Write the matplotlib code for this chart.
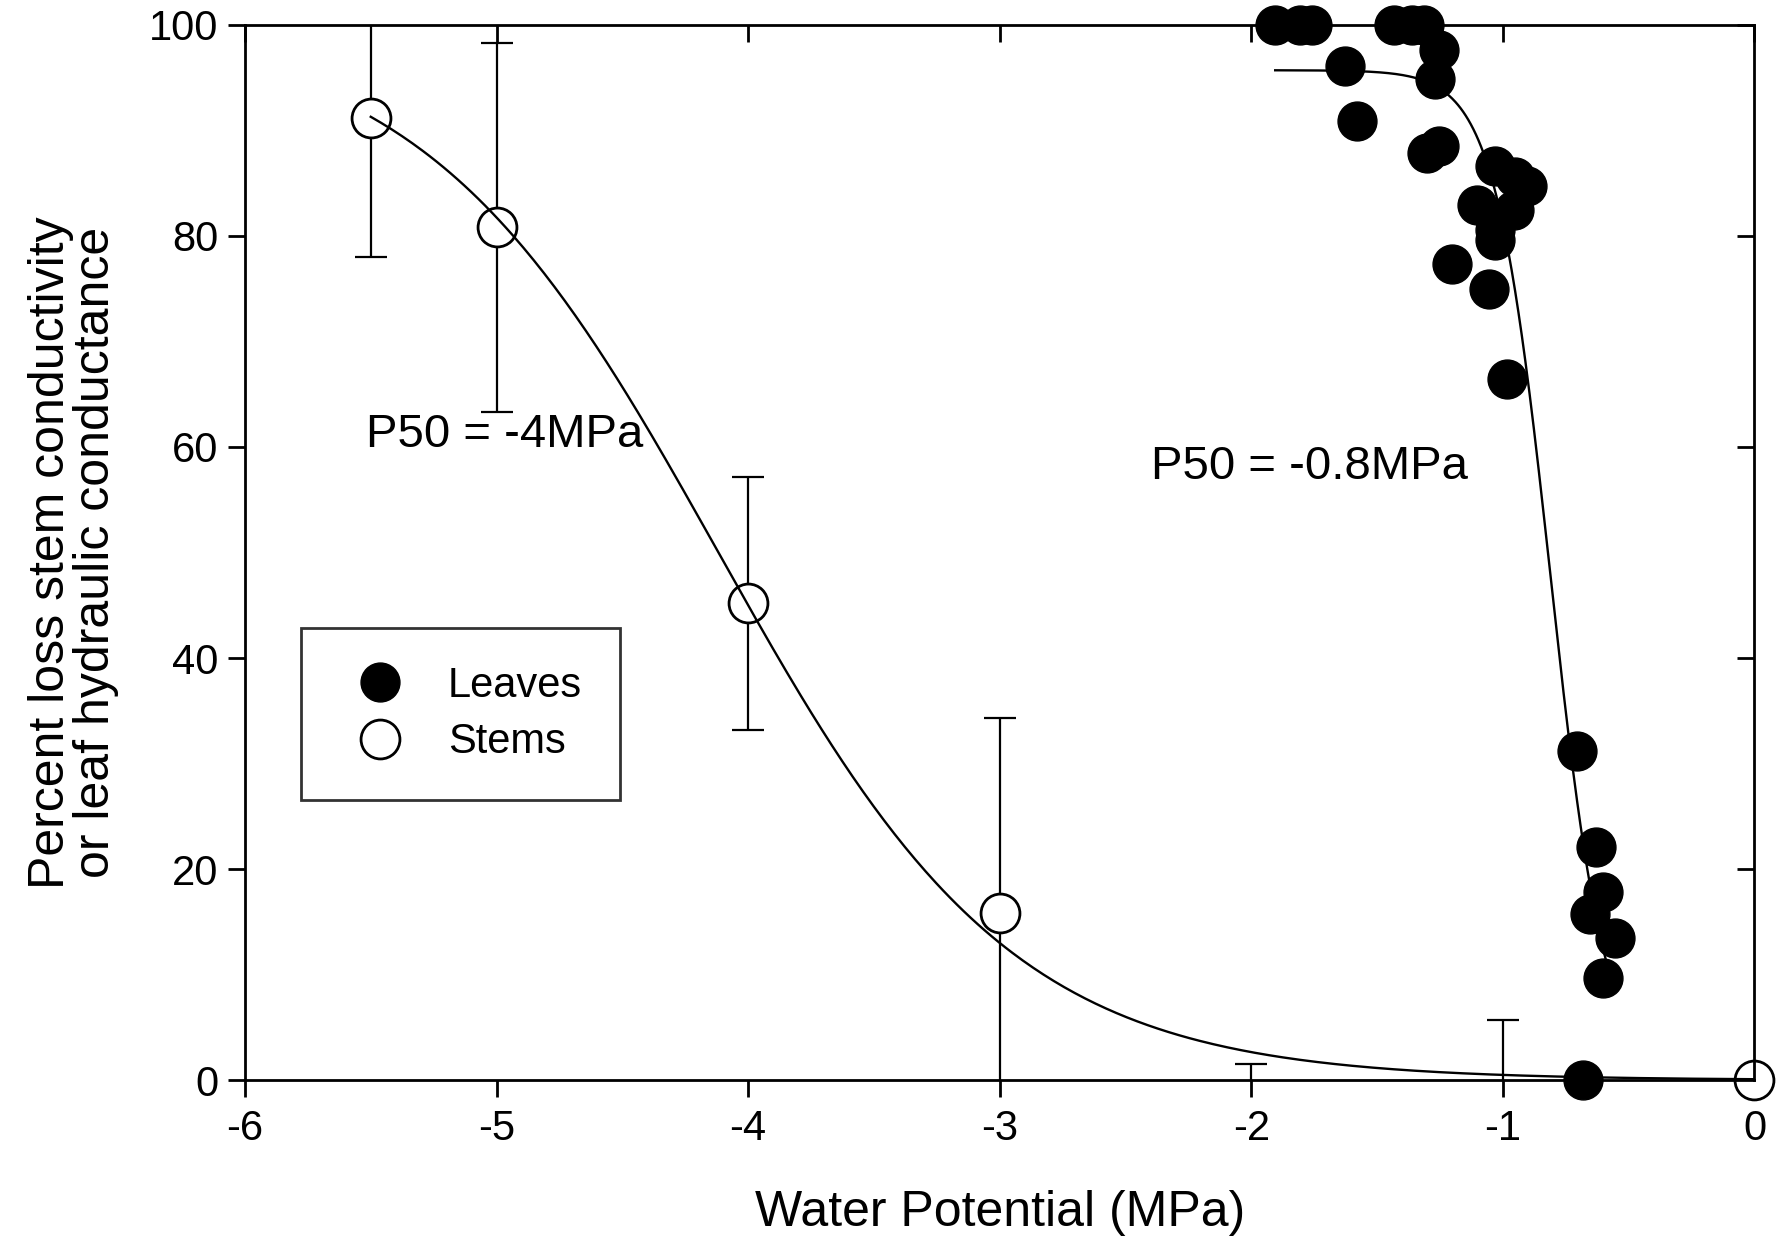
import matplotlib

matplotlib.use("Agg")

import matplotlib.pyplot as plt
import numpy as np

plt.rcParams["font.family"] = ["Liberation Sans", "DejaVu Sans"]

# stems: mean percent loss and error (the -2 and -1 means sit below 0 and are clipped)
stem_x = [-5.5, -5.0, -4.0, -3.0, -2.0, -1.0, 0.0]
stem_y = [91.2, 80.8, 45.2, 15.8, -1.0, -2.0, 0.0]
stem_err = [13.2, 17.5, 12.0, 18.5, 2.5, 7.7, 0.0]

# leaves: individual measurements
leaf_x = [-1.905, -1.805, -1.759, -1.434, -1.361, -1.315, -1.255, -1.268,
          -1.629, -1.580, -1.302, -1.255, -1.030, -0.950, -0.904, -1.103,
          -0.957, -1.030, -1.030, -1.202, -1.056, -0.983, -0.705, -0.630,
          -0.603, -0.655, -0.556, -0.603, -0.681]
leaf_y = [100.0, 100.0, 100.0, 100.0, 100.0, 100.0, 97.6, 94.9,
          96.1, 90.9, 87.9, 88.5, 86.6, 85.6, 84.7, 82.9,
          82.5, 80.6, 79.6, 77.3, 75.0, 66.4, 31.2, 22.1,
          17.8, 15.7, 13.5, 9.7, 0.0]

# fitted sigmoid parameters (max, slope, midpoint)
stem_fit = (100.0, 1.70, -4.118)
leaf_fit = (95.7, 9.08, -0.811)

x_ticks = [-6, -5, -4, -3, -2, -1, 0]
y_ticks = [0, 20, 40, 60, 80, 100]


def sigmoid(x, params):
    top, slope, mid = params
    return top / (1.0 + np.exp(slope * (x - mid)))


def main():
    fig = plt.figure(figsize=(17.79, 12.43), dpi=100)
    ax = fig.add_axes([0.1377, 0.131, 0.8485, 0.849])

    sx = np.array(stem_x)
    sy = np.array(stem_y)
    ax.errorbar(sx, sy, yerr=stem_err, fmt="none", ecolor="black",
                elinewidth=1.6, capsize=11.5, capthick=1.6, zorder=1)
    shown = sy >= 0
    ax.plot(sx[shown], sy[shown], "o", ms=28, mfc="white", mec="black",
            mew=2.0, clip_on=False, zorder=2, label="Stems")

    xs = np.linspace(min(stem_x), max(stem_x), 400)
    ax.plot(xs, sigmoid(xs, stem_fit), color="black", lw=1.7, zorder=3)
    xl = np.linspace(min(leaf_x), max(leaf_x), 400)
    ax.plot(xl, sigmoid(xl, leaf_fit), color="black", lw=1.7, zorder=3)

    ax.plot(leaf_x, leaf_y, "o", ms=28, mfc="black", mec="black",
            clip_on=False, zorder=4, label="Leaves")

    ax.set_xlim(-6, 0)
    ax.set_ylim(0, 100)
    ax.set_xticks(x_ticks)
    ax.set_yticks(y_ticks)
    ax.set_xticklabels([str(v) for v in x_ticks])
    ax.tick_params(direction="out", length=12, width=2,
                   labelsize=30, colors="black")
    ax.tick_params(axis="x", pad=9)
    ax.tick_params(axis="y", pad=7)
    ax.tick_params(top=True, right=True, labeltop=False, labelright=False)
    # top and right ticks point into the plot
    for tick in ax.xaxis.get_major_ticks():
        tick.tick2line.set_marker(3)
        tick.tick2line.set_markersize(12)
    for tick in ax.yaxis.get_major_ticks():
        tick.tick2line.set_marker(0)
        tick.tick2line.set_markersize(12)
    for spine in ax.spines.values():
        spine.set_linewidth(2.0)

    ax.set_xlabel("Water Potential (MPa)", fontsize=36, labelpad=29)
    ax.set_ylabel("Percent loss stem conductivity\nor leaf hydraulic conductance",
                  fontsize=36, labelpad=22, linespacing=0.95)

    ax.text(-5.52, 60.0, "P50 = -4MPa", fontsize=34, va="baseline")
    ax.text(-2.40, 57.0, "P50 = -0.8MPa", fontsize=34, va="baseline")

    handles, labels = ax.get_legend_handles_labels()
    leg = ax.legend(handles[::-1], labels[::-1], loc="upper left",
                    bbox_to_anchor=(0.037, 0.428), fontsize=30, frameon=True,
                    fancybox=False, edgecolor="black", borderpad=0.9,
                    labelspacing=0.39, handlelength=2.0, handletextpad=0.63,
                    borderaxespad=0.0, markerscale=1.0)
    leg.get_frame().set_linewidth(2.0)

    fig.savefig("out.png", dpi=100, facecolor="white")
    plt.close(fig)


if __name__ == "__main__":
    main()
